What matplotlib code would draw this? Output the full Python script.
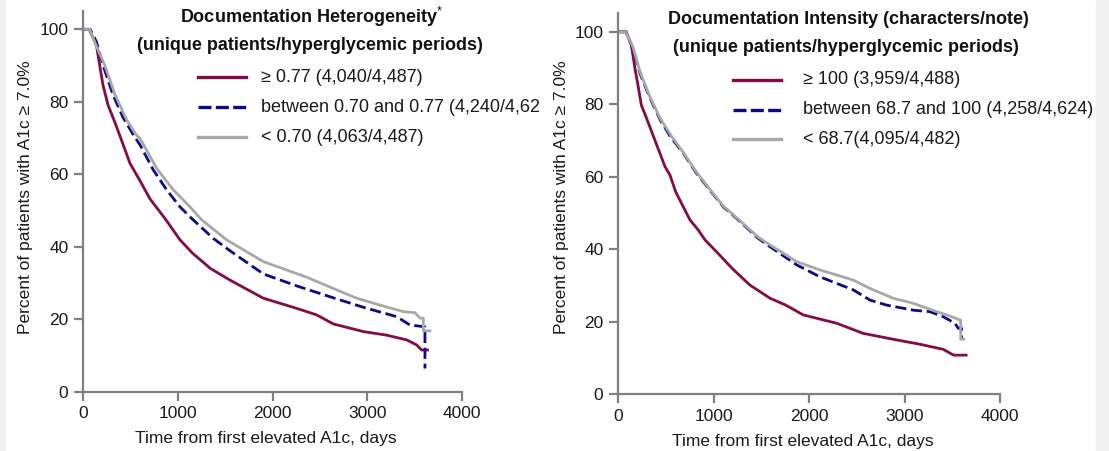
import matplotlib
matplotlib.use("Agg")
import matplotlib.pyplot as plt
from matplotlib.lines import Line2D
from matplotlib.patches import Rectangle

plt.rcParams['font.family'] = ['Liberation Sans', 'DejaVu Sans']
plt.rcParams['mathtext.fontset'] = 'custom'
plt.rcParams['mathtext.rm'] = 'Liberation Sans'
plt.rcParams['mathtext.bf'] = 'Liberation Sans:bold'

W, H = 1109, 451

# ---------------- data (days, percent) ----------------
# Left panel: Documentation Heterogeneity
het_hi_x = [0, 65, 141, 176, 211, 264, 334, 387, 496, 602, 707, 865, 1024, 1157, 1345, 1551,
            1903, 2255, 2466, 2642, 2958, 3205, 3416, 3521, 3574, 3636]
het_hi_y = [100, 100, 95.7, 90.1, 84.6, 79.1, 74.5, 70.8, 63.0, 58.2, 53.2, 47.8, 41.9, 38.2, 34.0, 30.8,
            25.8, 23.0, 21.2, 18.7, 16.6, 15.6, 14.3, 12.9, 11.5, 11.5]
het_mid_x = [0, 75, 141, 211, 317, 422, 545, 602, 742, 883, 1024, 1147, 1375, 1551, 1903, 2255,
             2607, 2958, 3311, 3451, 3609, 3609]
het_mid_y = [100, 100, 96.6, 90.1, 81.9, 75.7, 70.3, 68.1, 61.2, 55.7, 51.0, 47.8, 42.3, 38.9, 32.5, 29.2,
             26.2, 23.3, 20.7, 18.4, 17.9, 6.4]
het_lo_x = [0, 70, 144, 229, 336, 461, 563, 602, 778, 953, 1129, 1253, 1516, 1903, 2361, 2677,
            2889, 3134, 3380, 3504, 3557, 3592, 3592, 3662]
het_lo_y = [100, 100, 95.2, 90.1, 82.1, 75.0, 70.8, 69.9, 61.6, 55.7, 51.0, 47.4, 41.9, 35.9, 31.6, 28.1,
            25.8, 23.9, 22.1, 21.8, 20.3, 20.3, 16.8, 16.8]

# Right panel: Documentation Intensity
int_hi_x = [0, 87, 140, 178, 209, 244, 297, 366, 492, 544, 605, 701, 754, 841, 911, 1047, 1196,
            1383, 1592, 1757, 1940, 2289, 2568, 2918, 3162, 3406, 3514, 3645]
int_hi_y = [100, 100, 96.3, 89.8, 85.3, 79.8, 76.3, 71.5, 62.8, 60.5, 55.8, 50.8, 48.1, 45.3, 42.6, 38.9, 34.7,
            30.1, 26.5, 24.6, 21.9, 19.6, 16.8, 15.0, 13.8, 12.4, 10.8, 10.8]
int_mid_x = [0, 80, 160, 230, 330, 440, 550, 684, 824, 963, 1103, 1243, 1469, 1592, 1871, 2115,
             2464, 2638, 2813, 3092, 3266, 3406, 3528, 3563, 3598, 3598]
int_mid_y = [100, 100, 95.2, 88.5, 82.0, 75.8, 71.0, 66.5, 60.9, 56.3, 51.7, 48.5, 43.0, 40.7, 35.7, 32.4,
             28.8, 26.0, 24.6, 23.2, 22.8, 21.4, 19.6, 18.2, 18.2, 15.2]
int_lo_x = [0, 80, 160, 230, 330, 440, 560, 684, 824, 963, 1103, 1243, 1469, 1592, 1871, 2115,
            2464, 2638, 2882, 3092, 3337, 3476, 3581, 3588, 3588, 3620]
int_lo_y = [100, 100, 95.6, 89.0, 82.3, 76.2, 71.2, 66.7, 61.2, 56.5, 51.9, 48.7, 43.3, 41.2, 36.6, 34.3,
            31.5, 29.2, 26.5, 25.1, 22.8, 21.6, 20.5, 20.5, 15.2, 15.2]

x_ticks = [0, 1000, 2000, 3000, 4000]
y_ticks = [0, 20, 40, 60, 80, 100]

left_title = ["Documentation Heterogeneity$^{*}$", "(unique patients/hyperglycemic periods)"]
right_title = ["Documentation Intensity (characters/note)", "(unique patients/hyperglycemic periods)"]
left_labels = ["\u2265 0.77 (4,040/4,487)", "between 0.70 and 0.77 (4,240/4,62", "< 0.70 (4,063/4,487)"]
right_labels = ["\u2265 100 (3,959/4,488)", "between 68.7 and 100 (4,258/4,624)", "< 68.7(4,095/4,482)"]
xlabel = "Time from first elevated A1c, days"
ylabel = "Percent of patients with A1c \u2265 7.0%"

# ---------------- styles ----------------
C_HI = '#850A48'
C_MID = '#0A0A8A'
C_LO = '#A8A8A8'
SP = '#808080'
styles = [dict(color=C_HI, lw=2.0, ls='-'),
          dict(color=C_MID, lw=2.0, ls=(0, (4.0, 1.7))),
          dict(color=C_LO, lw=2.0, ls='-')]
leg_ls = ['-', (0, (3.9, 1.3)), '-']

fig = plt.figure(figsize=(W / 100, H / 100), dpi=100)
fig.patch.set_facecolor('white')
fig.patches.append(Rectangle((0, 0), 5 / W, 1, transform=fig.transFigure, color='#F0F0F0', zorder=0))
fig.patches.append(Rectangle((1096 / W, 0), 13 / W, 1, transform=fig.transFigure, color='#F0F0F0', zorder=0))


def fx(px):
    return px / W


def fy(py):
    return 1 - py / H


def make_panel(rect, ytop, series, titles, tpos, labels, leg, xl_pos, yl_pos):
    ax = fig.add_axes(rect)
    for (xs, ys), st in zip(series, styles):
        ax.plot(xs, ys, **st)
    ax.set_xlim(0, 4000)
    ax.set_ylim(0, ytop)
    ax.set_xticks(x_ticks)
    ax.set_yticks(y_ticks)
    for s in ['top', 'right']:
        ax.spines[s].set_visible(False)
    for s in ['left', 'bottom']:
        ax.spines[s].set_color(SP)
        ax.spines[s].set_linewidth(1.6)
    ax.tick_params(direction='out', length=6.5, width=1.6, color=SP, labelsize=12.5,
                   labelcolor='#1a1a1a', pad=4)
    ax.set_xlabel(xlabel, fontsize=12.5, color='#1a1a1a', va='center')
    ax.set_ylabel(ylabel, fontsize=12.5, color='#1a1a1a', va='center')
    ax.xaxis.set_label_coords(*xl_pos)
    ax.yaxis.set_label_coords(*yl_pos)
    for t, (tx, ty) in zip(titles, tpos):
        fig.text(fx(tx), fy(ty), t, fontsize=13, fontweight='bold', ha='center', va='center',
                 color='#111111')
    (lx0, lx1, tx0), ys = leg
    for lab, st, lls, yy in zip(labels, styles, leg_ls, ys):
        fig.add_artist(Line2D([fx(lx0), fx(lx1)], [fy(yy), fy(yy)], transform=fig.transFigure,
                              color=st['color'], lw=2.4, ls=lls))
        fig.text(fx(tx0), fy(yy), lab, fontsize=13, ha='left', va='center', color='#1a1a1a')
    return ax


make_panel([83 / W, 1 - 391.7 / H, 379 / W, 380.5 / H], 105,
           [(het_hi_x, het_hi_y), (het_mid_x, het_mid_y), (het_lo_x, het_lo_y)],
           left_title, [(311, 17), (310, 45)], left_labels,
           ((198, 246, 261), [77, 107, 137]),
           (0.483, -0.124), (-0.153, 0.512))

make_panel([618 / W, 1 - 394.3 / H, 382 / W, 381 / H], 105.1,
           [(int_hi_x, int_hi_y), (int_mid_x, int_mid_y), (int_lo_x, int_lo_y)],
           right_title, [(848, 20), (846, 47)], right_labels,
           ((733, 781, 803), [80, 110, 139]),
           (0.484, -0.123), (-0.149, 0.518))

fig.savefig('out.png', dpi=100)
